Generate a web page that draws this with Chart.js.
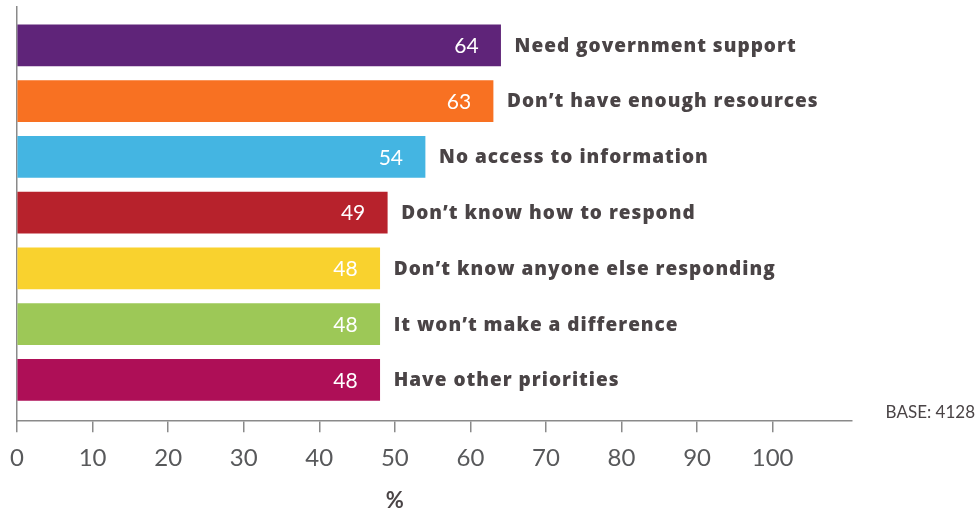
<!DOCTYPE html>
<html>
<head>
<meta charset="utf-8">
<script src="https://cdn.jsdelivr.net/npm/chart.js@4/dist/chart.umd.min.js"></script>
<style>
  html, body { margin: 0; padding: 0; background: #ffffff; }
  #wrap { width: 978px; height: 513px; position: relative; }
</style>
</head>
<body>
<div id="wrap"><canvas id="chart"></canvas></div>
<script>
// Reasons for not responding, share of respondents (%)
const categories = [
  'Need government support',
  'Don\u2019t have enough resources',
  'No access to information',
  'Don\u2019t know how to respond',
  'Don\u2019t know anyone else responding',
  'It won\u2019t make a difference',
  'Have other priorities'
];
const values = [64, 63, 54, 49, 48, 48, 48];
const barColors = ['#5f2479', '#f87122', '#44b5e2', '#b7222c', '#f9d22e', '#9dc857', '#ae0f57'];
const xTicks = [0, 10, 20, 30, 40, 50, 60, 70, 80, 90, 100];
const axisTitle = '%';
const baseNote = 'BASE: 4128';

const LABEL_FONT = '"Open Sans", "DejaVu Sans", sans-serif';
const TICK_FONT = 'Lato, "Open Sans", sans-serif';

// Value inside the bar end, category name just past it, plus axis title and base note
const annotate = {
  id: 'annotate',
  afterDatasetsDraw(chart) {
    const ctx = chart.ctx;
    const meta = chart.getDatasetMeta(0);
    ctx.save();
    ctx.textBaseline = 'middle';
    meta.data.forEach((bar, i) => {
      ctx.letterSpacing = '0px';
      ctx.fillStyle = '#ffffff';
      ctx.font = '400 21px ' + TICK_FONT;
      ctx.textAlign = 'right';
      ctx.fillText(String(values[i]), bar.x - 22, bar.y + 1);
      ctx.fillStyle = '#4a4446';
      ctx.font = '800 19px ' + LABEL_FONT;
      ctx.letterSpacing = '1px';
      ctx.textAlign = 'left';
      ctx.fillText(categories[i], bar.x + 14, bar.y + 1);
    });
    ctx.letterSpacing = '0px';
    const xs = chart.scales.x;
    ctx.fillStyle = '#4a4446';
    ctx.font = '700 22px ' + TICK_FONT;
    ctx.textAlign = 'center';
    ctx.fillText(axisTitle, xs.getPixelForValue(50), 501);
    ctx.font = '400 17px ' + TICK_FONT;
    ctx.textAlign = 'right';
    ctx.fillText(baseNote, 975, 413);
    ctx.restore();
  }
};

new Chart(document.getElementById('chart'), {
  type: 'bar',
  data: {
    datasets: [{
      data: values.map((v, i) => ({ x: v, y: i })),
      backgroundColor: barColors,
      borderWidth: 0,
      barThickness: 41
    }]
  },
  options: {
    indexAxis: 'y',
    responsive: true,
    maintainAspectRatio: false,
    animation: false,
    layout: { padding: { left: 17, right: 126, top: 7, bottom: 28 } },
    plugins: { legend: { display: false }, tooltip: { enabled: false } },
    scales: {
      x: {
        type: 'linear',
        min: 0,
        max: 110.5,
        afterBuildTicks(scale) {
          scale.ticks = xTicks.map(v => ({ value: v }));
        },
        afterFit(scale) { scale.paddingLeft = 0; },
        grid: {
          drawOnChartArea: false,
          drawTicks: true,
          tickLength: 11,
          color: '#8a8a8a',
          lineWidth: 1.5
        },
        border: { display: true, color: '#8a8a8a', width: 1.5 },
        ticks: {
          color: '#58595b',
          padding: 12,
          font: { family: TICK_FONT, size: 24 }
        }
      },
      y: {
        type: 'linear',
        reverse: true,
        offset: false,
        min: -0.6875,
        max: 6.741,
        afterFit(scale) { scale.width = 0; },
        grid: { display: false, drawTicks: false, offset: false },
        border: { display: true, color: '#8a8a8a', width: 1.5 },
        ticks: { display: false }
      }
    }
  },
  plugins: [annotate]
});
</script>
</body>
</html>
